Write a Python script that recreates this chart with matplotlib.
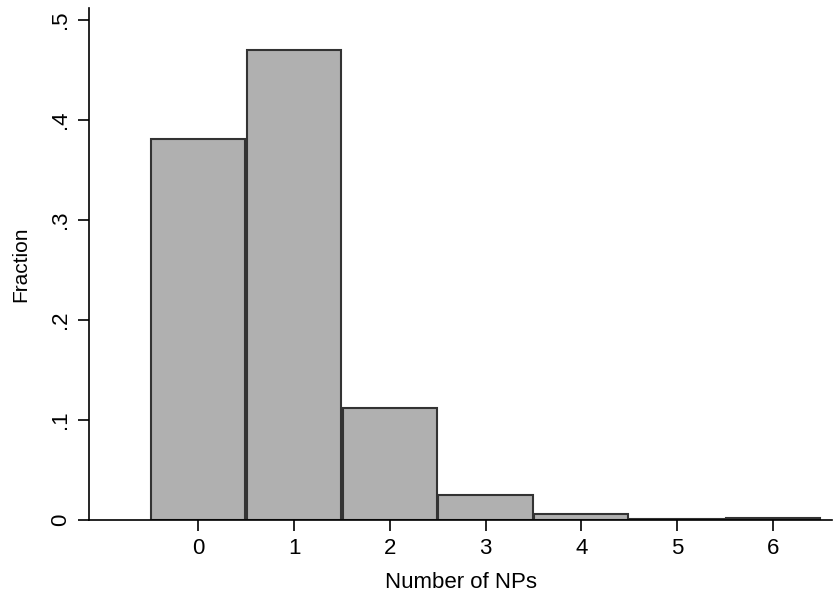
import numpy as np
import matplotlib
matplotlib.use("Agg")
import matplotlib.pyplot as plt

plt.rcParams['font.family'] = ['Liberation Sans', 'DejaVu Sans']

# histogram data: number of NPs vs fraction
n_nps = [0, 1, 2, 3, 4, 5, 6]
fraction = [0.381, 0.470, 0.112, 0.025, 0.006, 0.001, 0.002]
y_ticks = [0, 0.1, 0.2, 0.3, 0.4, 0.5]
y_labels = ['0', '.1', '.2', '.3', '.4', '.5']

fig = plt.figure(figsize=(8.33, 5.97), dpi=100)
ax = fig.add_axes([0.107, 0.129, 0.892, 0.858])

ax.bar(n_nps, fraction, width=0.985, color='#b0b0b0', edgecolor='#333333', linewidth=1.5)

ax.set_xlim(-1.14, 6.62)
ax.set_ylim(0, 0.512)
ax.set_xticks(n_nps)
ax.set_yticks(y_ticks)
ax.set_yticklabels(y_labels, rotation=90, va='center')

for s in ['top', 'right']:
    ax.spines[s].set_visible(False)
ax.spines['left'].set_linewidth(1.2)
ax.spines['bottom'].set_linewidth(1.2)
ax.tick_params(axis='both', length=8, width=1.2, labelsize=16, pad=5)

ax.set_xlabel('Number of NPs', fontsize=16, labelpad=9)
ax.set_ylabel('Fraction', fontsize=15, labelpad=14)

fig.savefig('out.png', dpi=100)
